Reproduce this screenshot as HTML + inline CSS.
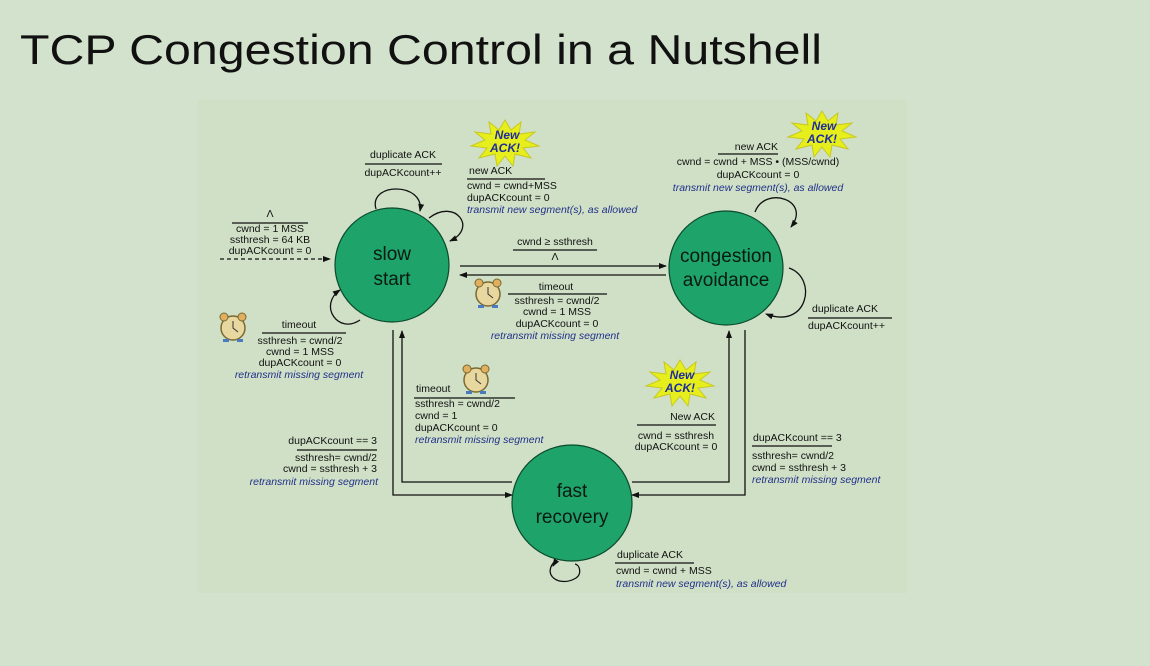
<!DOCTYPE html>
<html><head><meta charset="utf-8"><style>
html,body{margin:0;padding:0;background:#d3e2cc;}
svg{display:block}
text{font-family:"Liberation Sans",sans-serif;font-size:10.5px;fill:#111}
.i{font-style:italic;fill:#23308a}
.c{text-anchor:middle}
.r{text-anchor:end}
.st{font-size:19px;fill:#0a1a10;text-anchor:middle}
.sb{font-size:12px;font-style:italic;font-weight:bold;fill:#1e2ca0;text-anchor:middle}
</style></head><body>
<svg width="1150" height="666" viewBox="0 0 1150 666" xmlns="http://www.w3.org/2000/svg">
<defs>
<marker id="a" markerWidth="8" markerHeight="8" refX="7" refY="4" orient="auto" markerUnits="userSpaceOnUse"><path d="M0,1 L8,4 L0,7 z" fill="#111"/></marker>
<g id="burst"><polygon points="0,-22 6,-12 16,-20 14,-8 30,-10 20,-2 34,4 18,6 26,16 10,12 8,24 0,14 -8,24 -10,12 -26,16 -18,6 -34,4 -20,-2 -30,-10 -14,-8 -16,-20 -6,-12" fill="#e6ef1c" stroke="#c8c820" stroke-width="1"/></g>
<g id="clock"><circle cx="0" cy="0" r="12" fill="#e8d8a0" stroke="#7a6a30" stroke-width="1.5"/><circle cx="-9" cy="-11" r="4" fill="#e0b060" stroke="#7a6a30"/><circle cx="9" cy="-11" r="4" fill="#e0b060" stroke="#7a6a30"/><path d="M0,-7 L0,0 L5,4" stroke="#333" fill="none"/><rect x="-10" y="11" width="6" height="3" fill="#4a7ac0"/><rect x="4" y="11" width="6" height="3" fill="#4a7ac0"/></g>
</defs>
<text x="20" y="64" style="font-size:42px;fill:#111" textLength="802" lengthAdjust="spacingAndGlyphs">TCP Congestion Control in a Nutshell</text>
<rect x="198" y="100" width="709" height="493" fill="#cfe0c6"/>

<g stroke="#111" stroke-width="1.3" fill="none">
<!-- slow start <-> CA -->
<line x1="460" y1="266" x2="666" y2="266" marker-end="url(#a)"/>
<line x1="666" y1="275" x2="460" y2="275" marker-end="url(#a)"/>
<!-- left verticals -->
<polyline points="393,330 393,495 512,495" marker-end="url(#a)"/>
<polyline points="512,482 402,482 402,331" marker-end="url(#a)"/>
<!-- right verticals -->
<polyline points="632,482 729,482 729,331" marker-end="url(#a)"/>
<polyline points="745,330 745,495 632,495" marker-end="url(#a)"/>
<!-- dashed entry -->
<line x1="220" y1="259" x2="330" y2="259" stroke-dasharray="4,3" marker-end="url(#a)"/>
<!-- loops -->
<path d="M376,209 C368,182 425,182 420,211" marker-end="url(#a)"/>
<path d="M429,218 C455,198 478,228 450,241" marker-end="url(#a)"/>
<path d="M360,320 C338,335 318,305 340,290" marker-end="url(#a)"/>
<path d="M755,212 C765,185 812,200 791,227" marker-end="url(#a)"/>
<path d="M789,268 C818,278 808,330 766,314" marker-end="url(#a)"/>
<path d="M556,560 C540,575 560,588 576,578 C582,574 580,565 575,564"/>
<path d="M556,561 L553,566" marker-end="url(#a)"/>
<!-- label lines -->
<line x1="365" y1="164" x2="442" y2="164"/>
<line x1="467" y1="179" x2="545" y2="179"/>
<line x1="232" y1="223" x2="308" y2="223"/>
<line x1="262" y1="333" x2="346" y2="333"/>
<line x1="513" y1="250" x2="597" y2="250"/>
<line x1="508" y1="294" x2="607" y2="294"/>
<line x1="718" y1="154" x2="778" y2="154"/>
<line x1="808" y1="318" x2="892" y2="318"/>
<line x1="414" y1="398" x2="515" y2="398"/>
<line x1="637" y1="425" x2="716" y2="425"/>
<line x1="297" y1="450" x2="377" y2="450"/>
<line x1="752" y1="446" x2="832" y2="446"/>
<line x1="615" y1="563" x2="694" y2="563"/>
</g>

<!-- states -->
<circle cx="392" cy="265" r="57" fill="#1ea36a" stroke="#0c4a2c" stroke-width="1.2"/>
<text x="392" y="260" class="st">slow</text><text x="392" y="285" class="st">start</text>
<circle cx="726" cy="268" r="57" fill="#1ea36a" stroke="#0c4a2c" stroke-width="1.2"/>
<text x="726" y="262" class="st">congestion</text><text x="726" y="286" class="st">avoidance</text>
<ellipse cx="572" cy="503" rx="60" ry="58" fill="#1ea36a" stroke="#0c4a2c" stroke-width="1.2"/>
<text x="572" y="497" class="st">fast</text><text x="572" y="523" class="st">recovery</text>

<!-- bursts and clocks -->
<use href="#burst" x="505" y="142"/><text x="507" y="139" class="sb">New</text><text x="505" y="152" class="sb">ACK!</text>
<use href="#burst" x="822" y="133"/><text x="824" y="130" class="sb">New</text><text x="822" y="143" class="sb">ACK!</text>
<use href="#burst" x="680" y="382"/><text x="682" y="379" class="sb">New</text><text x="680" y="392" class="sb">ACK!</text>
<use href="#clock" x="233" y="328"/>
<use href="#clock" x="488" y="294"/>
<use href="#clock" x="476" y="380"/>

<!-- labels -->
<text x="403" y="158" class="c">duplicate ACK</text>
<text x="403" y="176" class="c">dupACKcount++</text>
<text x="469" y="174">new ACK</text>
<text x="467" y="189">cwnd = cwnd+MSS</text>
<text x="467" y="201">dupACKcount = 0</text>
<text x="467" y="213" class="i">transmit new segment(s), as allowed</text>

<text x="270" y="217" class="c">Λ</text>
<text x="270" y="232" class="c">cwnd = 1 MSS</text>
<text x="270" y="243" class="c">ssthresh = 64 KB</text>
<text x="270" y="254" class="c">dupACKcount = 0</text>

<text x="299" y="328" class="c">timeout</text>
<text x="300" y="344" class="c">ssthresh = cwnd/2</text>
<text x="300" y="355" class="c">cwnd = 1 MSS</text>
<text x="300" y="366" class="c">dupACKcount = 0</text>
<text x="299" y="378" class="c i">retransmit missing segment</text>

<text x="555" y="245" class="c">cwnd ≥ ssthresh</text>
<text x="555" y="260" class="c">Λ</text>
<text x="556" y="290" class="c">timeout</text>
<text x="557" y="304" class="c">ssthresh = cwnd/2</text>
<text x="557" y="315" class="c">cwnd = 1 MSS</text>
<text x="557" y="327" class="c">dupACKcount = 0</text>
<text x="555" y="339" class="c i">retransmit missing segment</text>

<text x="778" y="150" class="r">new ACK</text>
<text x="758" y="165" class="c">cwnd = cwnd + MSS • (MSS/cwnd)</text>
<text x="758" y="178" class="c">dupACKcount = 0</text>
<text x="758" y="191" class="c i">transmit new segment(s), as allowed</text>
<text x="812" y="312">duplicate ACK</text>
<text x="808" y="329">dupACKcount++</text>

<text x="416" y="392">timeout</text>
<text x="415" y="407">ssthresh = cwnd/2</text>
<text x="415" y="419">cwnd = 1</text>
<text x="415" y="431">dupACKcount = 0</text>
<text x="415" y="443" class="i">retransmit missing segment</text>

<text x="715" y="420" class="r">New ACK</text>
<text x="676" y="439" class="c">cwnd = ssthresh</text>
<text x="676" y="450" class="c">dupACKcount = 0</text>

<text x="377" y="444" class="r">dupACKcount == 3</text>
<text x="377" y="461" class="r">ssthresh= cwnd/2</text>
<text x="377" y="472" class="r">cwnd = ssthresh + 3</text>
<text x="378" y="485" class="r i">retransmit missing segment</text>

<text x="753" y="441">dupACKcount == 3</text>
<text x="752" y="459">ssthresh= cwnd/2</text>
<text x="752" y="471">cwnd = ssthresh + 3</text>
<text x="752" y="483" class="i">retransmit missing segment</text>

<text x="617" y="558">duplicate ACK</text>
<text x="616" y="574">cwnd = cwnd + MSS</text>
<text x="616" y="587" class="i">transmit new segment(s), as allowed</text>
</svg>
</body></html>
